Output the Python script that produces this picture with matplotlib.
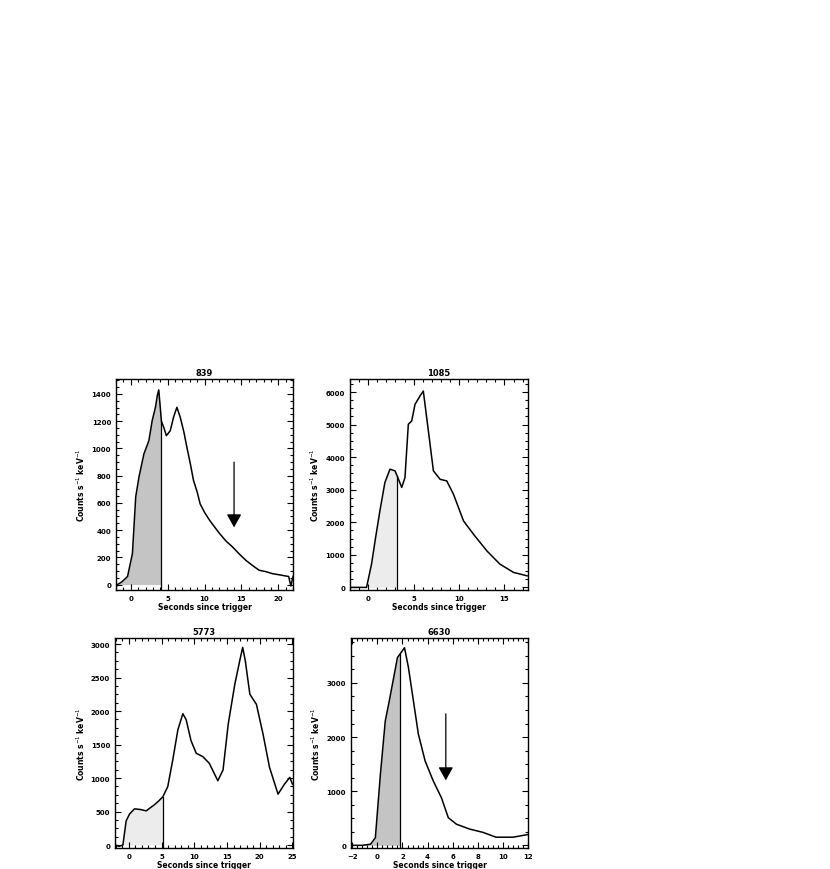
import numpy as np
import matplotlib
matplotlib.use("Agg")
import matplotlib.pyplot as plt
from matplotlib.ticker import MultipleLocator, AutoMinorLocator

# ===== DATA =====
titles = ["839", "1085", "5773", "6630"]

# panel 839
t_839 = [-2.0, -1.8, -1.2, -0.44, 0.22, 0.67, 1.11, 1.78, 2.45, 2.9, 3.35, 3.6, 3.79, 4.0, 4.15,
         4.5, 4.82, 5.35, 5.8, 6.25, 6.7, 7.2, 7.6, 8.1, 8.5, 9.0, 9.4, 10.0, 10.7, 11.4, 12.05,
         12.9, 13.8, 14.7, 15.6, 16.5, 17.4, 18.3, 19.2, 20.3, 21.4, 21.7, 22.0]
c_839 = [-20, 0, 20, 59, 227, 645, 790, 960, 1057, 1204, 1304, 1390, 1430, 1300, 1200,
         1150, 1094, 1130, 1230, 1302, 1230, 1120, 1010, 880, 765, 680, 593, 530, 471, 420, 374,
         320, 276, 225, 178, 140, 105, 95, 80, 70, 59, -10, 60]
shade_839 = 4.15
arrow_839 = [14.0, 920, 400]   # x, y start, y tip

# panel 1085
t_1085 = [-2.0, -1.0, -0.18, 0.37, 0.8, 1.29, 1.84, 2.4, 2.95, 3.2, 3.69, 4.05, 4.42, 4.79,
          5.16, 5.71, 6.07, 6.63, 7.18, 7.92, 8.65, 9.39, 10.5, 11.6, 13.07, 14.5, 16.0, 17.5]
c_1085 = [0, 0, 0, 715, 1500, 2350, 3220, 3630, 3580, 3420, 3070, 3370, 5010, 5110,
          5625, 5880, 6030, 4800, 3580, 3320, 3270, 2860, 2040, 1630, 1120, 715, 460, 355]
shade_1085 = 3.2

# panel 5773
t_5773 = [-2.0, -1.5, -0.9, -0.4, 0.1, 0.87, 1.8, 2.66, 3.9, 4.6, 5.2, 5.95, 6.72, 7.5, 8.26,
          8.77, 9.5, 10.3, 11.3, 12.3, 13.6, 14.4, 15.2, 16.2, 16.95, 17.4, 17.8, 18.5,
          19.5, 20.5, 21.5, 22.8, 23.8, 24.6, 25.0]
c_5773 = [0, -20, 0, 360, 460, 540, 530, 510, 600, 660, 720, 870, 1270, 1720, 1960,
          1870, 1560, 1370, 1320, 1220, 960, 1120, 1810, 2400, 2750, 2950, 2750, 2250,
          2100, 1660, 1160, 760, 910, 1010, 910]
shade_5773 = 5.2

# panel 6630
t_6630 = [-2.0, -1.2, -0.55, -0.16, 0.24, 0.63, 0.9, 1.3, 1.6, 1.82, 2.16, 2.47, 2.87, 3.26,
          3.8, 4.45, 5.1, 5.65, 6.3, 7.35, 8.4, 9.45, 10.8, 12.0]
c_6630 = [0, 0, 20, 140, 1310, 2300, 2610, 3100, 3470, 3540, 3650, 3290, 2670, 2060,
          1560, 1190, 880, 510, 390, 300, 240, 150, 150, 200]
shade_6630 = 1.82
arrow_6630 = [5.45, 2480, 1150]

xlims = [(-2, 22), (-2, 17.6), (-2.1, 25.1), (-2.1, 12)]
ylims = [(-40, 1510), (-80, 6400), (-45, 3090), (-50, 3830)]
xmaj = [5, 5, 5, 2]
ymaj = [200, 1000, 500, 1000]
shade_colors = ["#c4c4c4", "#ececec", "#ececec", "#c4c4c4"]

# axes placement in figure fractions
boxes = [[0.1398, 0.3207, 0.2133, 0.2425],
         [0.4217, 0.3207, 0.2145, 0.2425],
         [0.1386, 0.0241, 0.2145, 0.2414],
         [0.4229, 0.0241, 0.2133, 0.2414]]

plt.rcParams['font.family'] = ['DejaVu Sans']
fig = plt.figure(figsize=(8.3, 8.7), dpi=100)

series = [(t_839, c_839, shade_839), (t_1085, c_1085, shade_1085),
          (t_5773, c_5773, shade_5773), (t_6630, c_6630, shade_6630)]
arrows = {0: arrow_839, 3: arrow_6630}

for i, (t, c, sh) in enumerate(series):
    ax = fig.add_axes(boxes[i])
    t = np.array(t)
    c = np.array(c)
    # shaded part under curve up to the cut time
    ts = np.linspace(t[0], sh, 300)
    cs = np.interp(ts, t, c)
    ax.fill_between(ts, 0, np.clip(cs, 0, None), color=shade_colors[i], lw=0)
    ax.plot([sh, sh], [ylims[i][0], np.interp(sh, t, c)], color="black", lw=0.9)
    ax.plot(t, c, color="black", lw=1.1)

    if i in arrows:
        ax_x, y0, y1 = arrows[i]
        ax.annotate("", xy=(ax_x, y1), xytext=(ax_x, y0),
                    arrowprops=dict(arrowstyle="-|>,head_width=0.45,head_length=0.8",
                                    color="black", lw=0.9))

    ax.set_xlim(*xlims[i])
    ax.set_ylim(*ylims[i])
    ax.xaxis.set_major_locator(MultipleLocator(xmaj[i]))
    ax.yaxis.set_major_locator(MultipleLocator(ymaj[i]))
    ax.xaxis.set_minor_locator(AutoMinorLocator(5))
    ax.yaxis.set_minor_locator(AutoMinorLocator(4))
    ax.tick_params(which="both", direction="in", top=True, right=True,
                   labelsize=5, width=0.8)
    ax.tick_params(which="major", length=4)
    ax.tick_params(which="minor", length=2)
    for s in ax.spines.values():
        s.set_linewidth(1.0)
    ax.set_title(titles[i], fontsize=6, fontweight="bold", pad=3)
    ax.set_xlabel("Seconds since trigger", fontsize=5.5, fontweight="bold", labelpad=1)
    ax.set_ylabel("Counts s$^{-1}$ keV$^{-1}$", fontsize=5.5, fontweight="bold", labelpad=3)
    for lab in ax.get_xticklabels() + ax.get_yticklabels():
        lab.set_fontweight("bold")

fig.savefig("out.png", dpi=100)
